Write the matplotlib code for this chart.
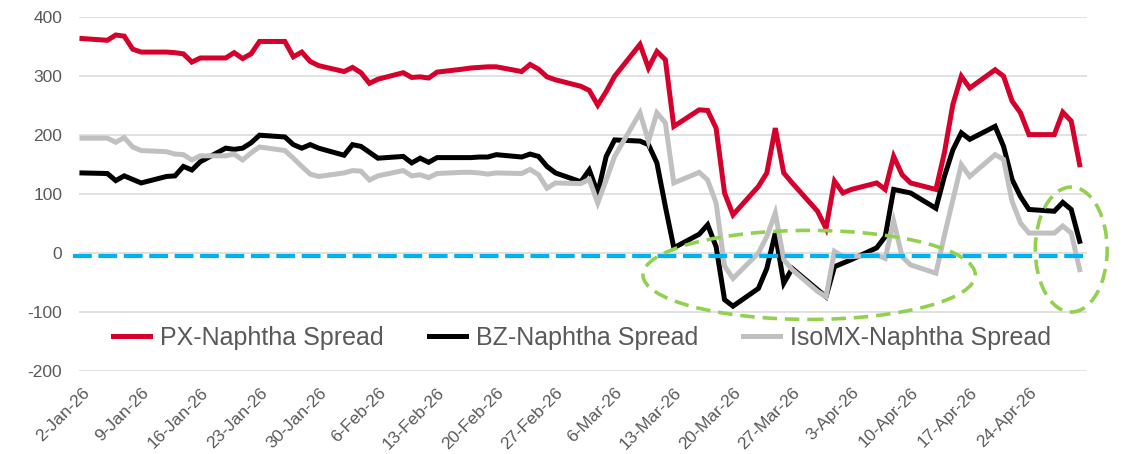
import pandas as pd
import matplotlib
matplotlib.use('Agg')
import matplotlib.pyplot as plt
from matplotlib.patches import Ellipse

plt.rcParams['font.family'] = ['Liberation Sans', 'DejaVu Sans']

# trading days 2-Jan-26 .. 30-Apr-26
dates = pd.bdate_range('2026-01-02', '2026-04-30')

px_spread = [364, 361, 370, 368, 346, 341, 341, 340, 338, 324, 331, 331, 340, 330, 338, 359,
             359, 333, 341, 325, 318,
             308, 315, 306, 288, 295, 306, 298, 299, 297, 307, 312, 314, 315, 316, 316,
             308, 320, 312, 299, 294,
             283, 276, 251, 274, 300, 354, 314, 342, 328, 215, 243, 242, 212, 102, 65,
             113, 136, 212, 136, 119, 71, 42,
             122, 102, 108, 119, 108, 164, 133, 119, 108, 170, 252, 300, 280,
             311, 300, 258, 238, 201, 201, 239, 224, 150]

bz_spread = [136, 135, 123, 131, 125, 119, 130, 131, 147, 141, 155, 178, 176, 178, 187, 200,
             197, 184, 178, 184, 178,
             166, 184, 181, 171, 161, 164, 153, 161, 154, 162, 162, 162, 163, 163, 167,
             163, 168, 164, 147, 136,
             121, 141, 102, 164, 192, 190, 184, 153, 79, 9, 32, 48, 11, -79, -90,
             -60, -26, 34, -51, -26, -62, -74,
             -23, -17, -11, 9, 28, 108, 105, 102, 76, 130, 175, 204, 193,
             215, 181, 125, 96, 74, 71, 86, 74, 20]

isomx_spread = [195, 195, 188, 196, 180, 174, 172, 168, 167, 158, 165, 165, 168, 158, 170, 180,
                174, 161, 147, 134, 130,
                136, 140, 139, 124, 131, 140, 131, 133, 128, 135, 137, 137, 136, 134, 136,
                135, 142, 133, 110, 119,
                118, 125, 85, 124, 164, 238, 190, 238, 221, 119, 137, 124, 85, -22, -43,
                0, 28, 68, -11, -28, -65, -74,
                3, -6, -6, -3, -9, 54, -6, -20, -34, 30, 90, 150, 130,
                167, 159, 88, 51, 34, 34, 46, 34, -28]

series = [
    ('PX-Naphtha Spread', px_spread, '#D5002C'),
    ('BZ-Naphtha Spread', bz_spread, '#000000'),
    ('IsoMX-Naphtha Spread', isomx_spread, '#C0C0C0'),
]

zero_line = -5
yticks = [400, 300, 200, 100, 0, -100, -200]
tick_dates = pd.date_range('2026-01-02', '2026-04-24', freq='7D')

fig = plt.figure(figsize=(11.23, 4.54), dpi=100)
ax = fig.add_axes([0.0703, 0.1828, 0.8976, 0.7791])

for name, vals, col in series:
    ax.plot(dates, vals, color=col, lw=3.6, label=name, solid_joinstyle='miter', zorder=3)

ax.axhline(zero_line, xmin=-0.006, xmax=1.0, color='#00B0F0', lw=3.0,
           dashes=(4.5, 1.6), clip_on=False, zorder=4)

# green dashed highlight ellipses
d0 = pd.Timestamp('2026-01-02')
for cx, cy, w, h in [(86.0, -37, 39.3, 151), (117.0, 6, 8.5, 212)]:
    e = Ellipse((matplotlib.dates.date2num(d0 + pd.Timedelta(days=cx)), cy), w, h,
                fill=False, edgecolor='#92D050', lw=2.6, linestyle=(0, (4.0, 2.2)),
                clip_on=False, zorder=5)
    ax.add_patch(e)

ax.set_xlim(d0 - pd.Timedelta(days=0.355), d0 + pd.Timedelta(days=118.86))
ax.set_ylim(-200, 400)
ax.set_yticks(yticks)
ax.set_yticklabels([str(v) for v in yticks])
ax.set_xticks(tick_dates)
ax.set_xticklabels([f'{d.day}-{d:%b-%y}' for d in tick_dates], rotation=45,
                   ha='right', va='top', rotation_mode='anchor')

ax.grid(axis='y', color='#D9D9D9', lw=1.1)
ax.set_axisbelow(True)
for s in ax.spines.values():
    s.set_visible(False)
ax.tick_params(axis='both', length=0, labelsize=12.5, labelcolor='#595959')
ax.tick_params(axis='y', pad=12)
ax.tick_params(axis='x', pad=10)

ax.legend(loc='center left', bbox_to_anchor=(0.034, 0.094), ncol=3, frameon=False,
          fontsize=18, handlelength=1.48, handletextpad=0.4, columnspacing=1.8,
          borderpad=0, borderaxespad=0, labelcolor='#595959')

plt.savefig('out.png', dpi=100)
plt.close()
